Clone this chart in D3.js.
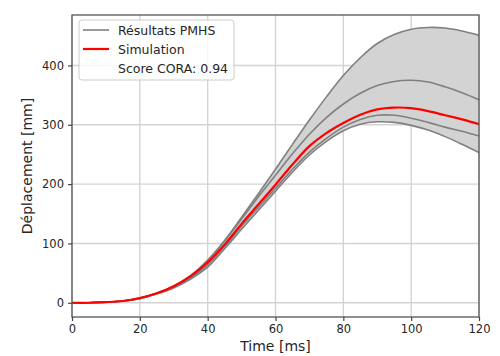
<!DOCTYPE html>
<html><head><meta charset="utf-8">
<script src="https://cdn.jsdelivr.net/npm/d3@7"></script>
<style>body{margin:0;background:#fff;} svg{display:block;} text{font-family:"DejaVu Sans",sans-serif;fill:#262626;}</style>
</head><body>
<svg id="c" width="500" height="356"></svg>
<script>
const time = [0,5,10,15,20,25,30,35,40,45,50,55,60,65,70,75,80,85,90,95,100,105,110,115,120];
const simulation = [0,0,1,3,8,16,28,45,68,98,133,166,199,233,264,286,303,317,326,329,328,323,316,309,301];
const pmhs1 = [0,0,1,3,8,16,28,46,72,105,144,184,225,267,308,347,383,413,437,452,461,464,463,458,451];
const pmhs2 = [0,0,1,3,8,16,28,45,70,104,141,179,215,251,284,312,335,353,366,373,375,372,364,354,342];
const pmhs3 = [0,0,1,3,7,15,26,42,64,95,129,161,193,225,254,277,296,309,316,316,311,304,296,289,281];
const pmhs4 = [0,0,1,3,7,15,25,40,60,91,124,156,188,220,249,272,290,301,305,304,299,291,280,267,253];
const xTicks = [0,20,40,60,80,100,120];
const yTicks = [0,100,200,300,400];
const legendLabels = ["Résultats PMHS","Simulation","Score CORA: 0.94"];

const svg = d3.select("#c");
const L=72, R=479, T=15, B=317;
const x = d3.scaleLinear().domain([0,120]).range([L,R]);
const y = d3.scaleLinear().domain([-24,485]).range([B,T]);
const curve = d3.curveCatmullRom.alpha(0.5);

// grid
const g = svg.append("g");
g.selectAll(".gx").data(xTicks).enter().append("line")
 .attr("x1",d=>x(d)).attr("x2",d=>x(d)).attr("y1",T).attr("y2",B)
 .attr("stroke","#d4d4d4").attr("stroke-width",1.4);
g.selectAll(".gy").data(yTicks).enter().append("line")
 .attr("y1",d=>y(d)).attr("y2",d=>y(d)).attr("x1",L).attr("x2",R)
 .attr("stroke","#d4d4d4").attr("stroke-width",1.4);

const pm = [pmhs1,pmhs2,pmhs3,pmhs4];
const band = time.map((t,i)=>({t, lo:d3.min(pm,s=>s[i]), hi:d3.max(pm,s=>s[i])}));
svg.append("path").datum(band)
 .attr("d",d3.area().x(d=>x(d.t)).y0(d=>y(d.lo)).y1(d=>y(d.hi)).curve(curve))
 .attr("fill","#d3d3d3");

const line = d3.line().x((d,i)=>x(time[i])).y(d=>y(d)).curve(curve);
pm.forEach(s=>{
 svg.append("path").datum(s).attr("d",line).attr("fill","none")
  .attr("stroke","#808080").attr("stroke-width",1.6);
});
svg.append("path").datum(simulation).attr("d",line).attr("fill","none")
 .attr("stroke","#ff0000").attr("stroke-width",2.2);

// frame
svg.append("rect").attr("x",L).attr("y",T).attr("width",R-L).attr("height",B-T)
 .attr("fill","none").attr("stroke","#555").attr("stroke-width",1.3);

// axes
const xa = svg.append("g").attr("transform",`translate(0,${B})`)
 .call(d3.axisBottom(x).tickValues(xTicks).tickSize(4).tickPadding(4));
const ya = svg.append("g").attr("transform",`translate(${L},0)`)
 .call(d3.axisLeft(y).tickValues(yTicks).tickSize(4).tickPadding(4));
[xa,ya].forEach(a=>{
 a.select(".domain").remove();
 a.selectAll(".tick line").attr("stroke","#444").attr("stroke-width",1.2);
 a.selectAll(".tick text").attr("font-size",11.5).attr("font-family","DejaVu Sans").attr("fill","#262626");
});

svg.append("text").attr("x",(L+R)/2).attr("y",351).attr("text-anchor","middle")
 .attr("font-size",14).text("Time [ms]");
svg.append("text").attr("transform",`translate(32,${(T+B)/2}) rotate(-90)`)
 .attr("text-anchor","middle").attr("font-size",14).text("Déplacement [mm]");

// legend
const lg = svg.append("g");
lg.append("rect").attr("x",79).attr("y",20).attr("width",155).attr("height",60).attr("rx",3)
 .attr("fill","#fff").attr("fill-opacity",0.8).attr("stroke","#ccc");
const legColors = ["#808080","#ff0000",null];
legendLabels.forEach((lab,i)=>{
 const yy = 30 + i*19;
 if(legColors[i]) lg.append("line").attr("x1",83).attr("x2",109).attr("y1",yy).attr("y2",yy)
   .attr("stroke",legColors[i]).attr("stroke-width",i==1?2.2:1.6);
 lg.append("text").attr("x",118).attr("y",yy+4.5).attr("font-size",12.5).text(lab);
});
</script>
</body></html>
